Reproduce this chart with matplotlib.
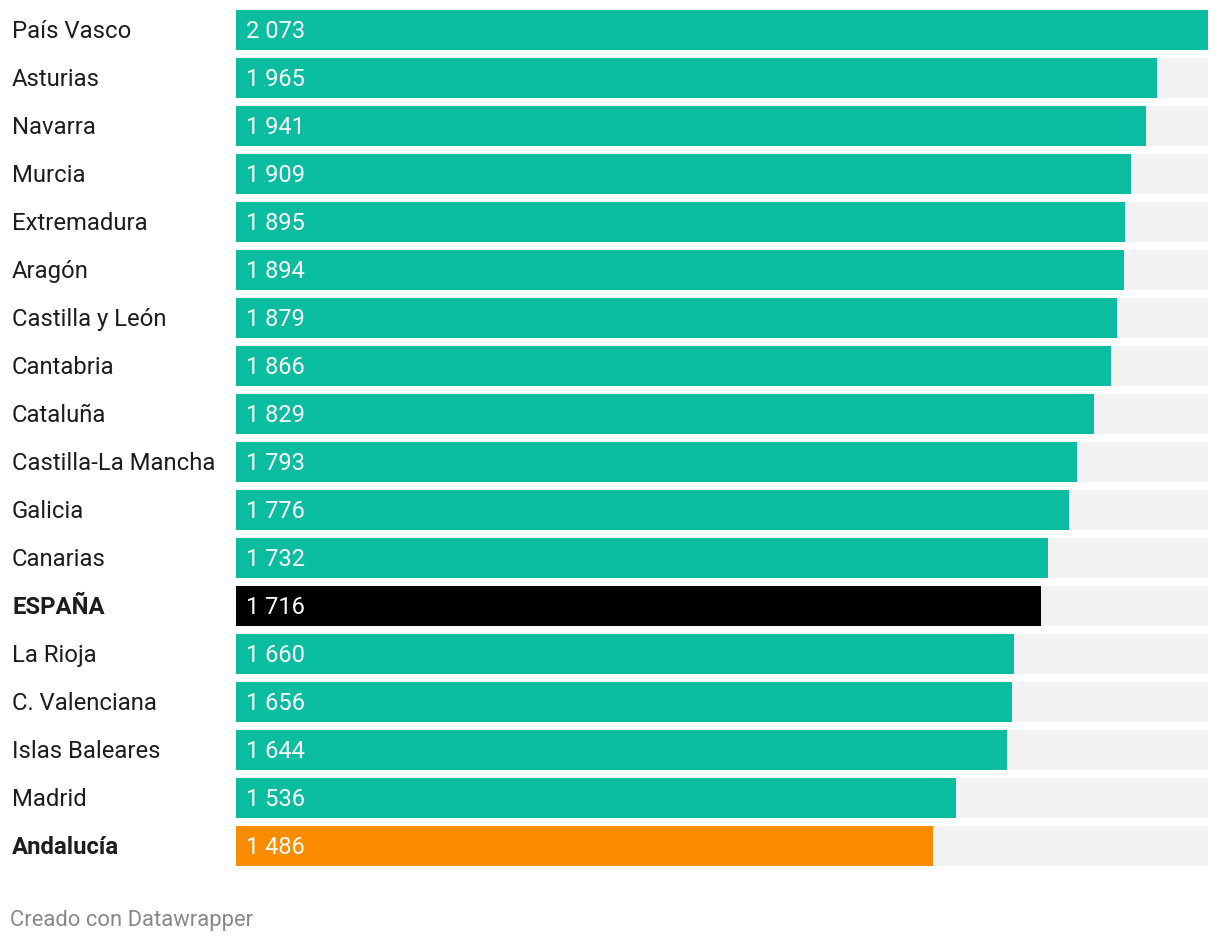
import matplotlib
matplotlib.use("Agg")
import matplotlib.pyplot as plt

regions = ["País Vasco", "Asturias", "Navarra", "Murcia", "Extremadura", "Aragón",
           "Castilla y León", "Cantabria", "Cataluña", "Castilla-La Mancha", "Galicia",
           "Canarias", "ESPAÑA", "La Rioja", "C. Valenciana", "Islas Baleares",
           "Madrid", "Andalucía"]
values = [2073, 1965, 1941, 1909, 1895, 1894, 1879, 1866, 1829, 1793, 1776,
          1732, 1716, 1660, 1656, 1644, 1536, 1486]
bold_labels = ["ESPAÑA", "Andalucía"]

TEAL = "#0bbda0"
colors = []
for r in regions:
    if r == "ESPAÑA":
        colors.append("#000000")
    elif r == "Andalucía":
        colors.append("#fb8c00")
    else:
        colors.append(TEAL)

plt.rcParams['font.family'] = ['Roboto', 'DejaVu Sans']

W, H = 1220, 942
fig = plt.figure(figsize=(W / 100, H / 100), dpi=100)
ax = fig.add_axes([236 / W, 1 - 866 / H, (1208 - 236) / W, (866 - 10) / H])

n = len(regions)
h = 40 / 48
ypos = list(range(n))
vmax = max(values)
ax.barh(ypos, [vmax] * n, height=h, color="#f2f2f2", linewidth=0)
ax.barh(ypos, values, height=h, color=colors, linewidth=0)
ax.set_xlim(0, vmax)
ax.set_ylim(n - 1 + h / 2, -h / 2)
ax.axis("off")

for i, (r, v) in enumerate(zip(regions, values)):
    s = f"{v:,}".replace(",", " ")
    ax.annotate(s, xy=(0, i), xytext=(7.5, 0.8), textcoords="offset points",
                ha="left", va="center_baseline", color="white", fontsize=17)
    ax.annotate(r, xy=(0, i), xycoords=("figure fraction", "data"),
                xytext=(12 * 0.72, 0.8), textcoords="offset points",
                ha="left", va="center_baseline", color="#1d1d1d", fontsize=17.2,
                fontweight="bold" if r in bold_labels else "normal")

fig.text(10 / W, 1 - 920.5 / H, "Creado con Datawrapper", ha="left", va="center",
         color="#888888", fontsize=15.8)

fig.savefig("out.png", dpi=100, facecolor="white")
